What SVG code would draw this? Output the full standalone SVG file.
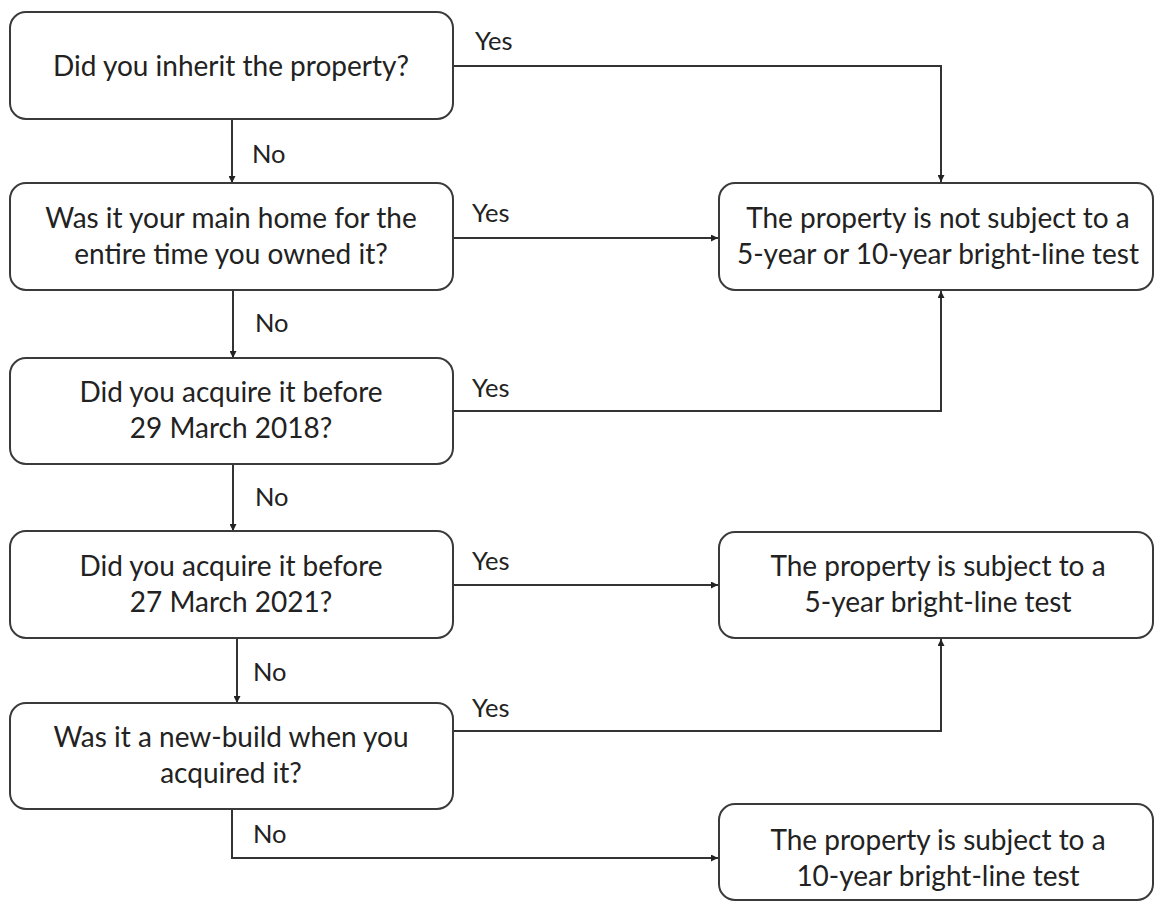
<svg xmlns="http://www.w3.org/2000/svg" width="1156" height="904" viewBox="0 0 1156 904">
<style>
.box{fill:#fff;stroke:#3a3a3a;stroke-width:2}
.t{font-family:Lato,"Open Sans",sans-serif;font-size:28px;fill:#222;text-anchor:middle}
.l{font-family:Lato,"Open Sans",sans-serif;font-size:25.5px;fill:#222}
.c{fill:none;stroke:#333;stroke-width:2}
</style>
<defs>
<marker id="ah" viewBox="0 0 10 10" refX="10" refY="5" markerWidth="7" markerHeight="7" orient="auto" markerUnits="userSpaceOnUse">
<path d="M0,0 L10,5 L0,10 z" fill="#222"/>
</marker>
</defs>
<rect width="1156" height="904" fill="#fff"/>
<g id="connectors">
<path class="c" d="M453,66 H941 V182" marker-end="url(#ah)"/>
<path class="c" d="M232,119 V183" marker-end="url(#ah)"/>
<path class="c" d="M453,238 H718" marker-end="url(#ah)"/>
<path class="c" d="M233,290 V358" marker-end="url(#ah)"/>
<path class="c" d="M453,411 H941 V291" marker-end="url(#ah)"/>
<path class="c" d="M233,464 V531" marker-end="url(#ah)"/>
<path class="c" d="M453,585 H718" marker-end="url(#ah)"/>
<path class="c" d="M237,638 V703" marker-end="url(#ah)"/>
<path class="c" d="M453,731 H941 V639" marker-end="url(#ah)"/>
<path class="c" d="M232,809 V858 H718" marker-end="url(#ah)"/>
<text class="l" x="475" y="50">Yes</text>
<text class="l" x="252" y="163">No</text>
<text class="l" x="472" y="222">Yes</text>
<text class="l" x="255" y="332">No</text>
<text class="l" x="472" y="397">Yes</text>
<text class="l" x="255" y="506">No</text>
<text class="l" x="472" y="570">Yes</text>
<text class="l" x="253" y="681">No</text>
<text class="l" x="472" y="717">Yes</text>
<text class="l" x="253" y="843">No</text>
</g>
<g id="q1">
<rect class="box" x="10" y="12" width="443" height="107" rx="16"/>
<text class="t" x="231" y="76">Did you inherit the property?</text>
</g>
<g id="q2">
<rect class="box" x="10" y="183" width="443" height="107" rx="16"/>
<text class="t" x="231" y="228">Was it your main home for the</text>
<text class="t" x="231" y="264">entire time you owned it?</text>
</g>
<g id="q3">
<rect class="box" x="10" y="358" width="443" height="106" rx="16"/>
<text class="t" x="231" y="402">Did you acquire it before</text>
<text class="t" x="231" y="438">29 March 2018?</text>
</g>
<g id="q4">
<rect class="box" x="10" y="531" width="443" height="107" rx="16"/>
<text class="t" x="231" y="576">Did you acquire it before</text>
<text class="t" x="231" y="612">27 March 2021?</text>
</g>
<g id="q5">
<rect class="box" x="10" y="703" width="443" height="106" rx="16"/>
<text class="t" x="231" y="747">Was it a new-build when you</text>
<text class="t" x="231" y="783">acquired it?</text>
</g>
<g id="r1">
<rect class="box" x="719" y="183" width="434" height="107" rx="16"/>
<text class="t" x="938" y="228">The property is not subject to a</text>
<text class="t" x="938" y="264">5-year or 10-year bright-line test</text>
</g>
<g id="r2">
<rect class="box" x="719" y="532" width="434" height="106" rx="16"/>
<text class="t" x="938" y="576">The property is subject to a</text>
<text class="t" x="938" y="612">5-year bright-line test</text>
</g>
<g id="r3">
<rect class="box" x="719" y="804" width="434" height="96" rx="16"/>
<text class="t" x="938" y="850">The property is subject to a</text>
<text class="t" x="938" y="886">10-year bright-line test</text>
</g>
</svg>
